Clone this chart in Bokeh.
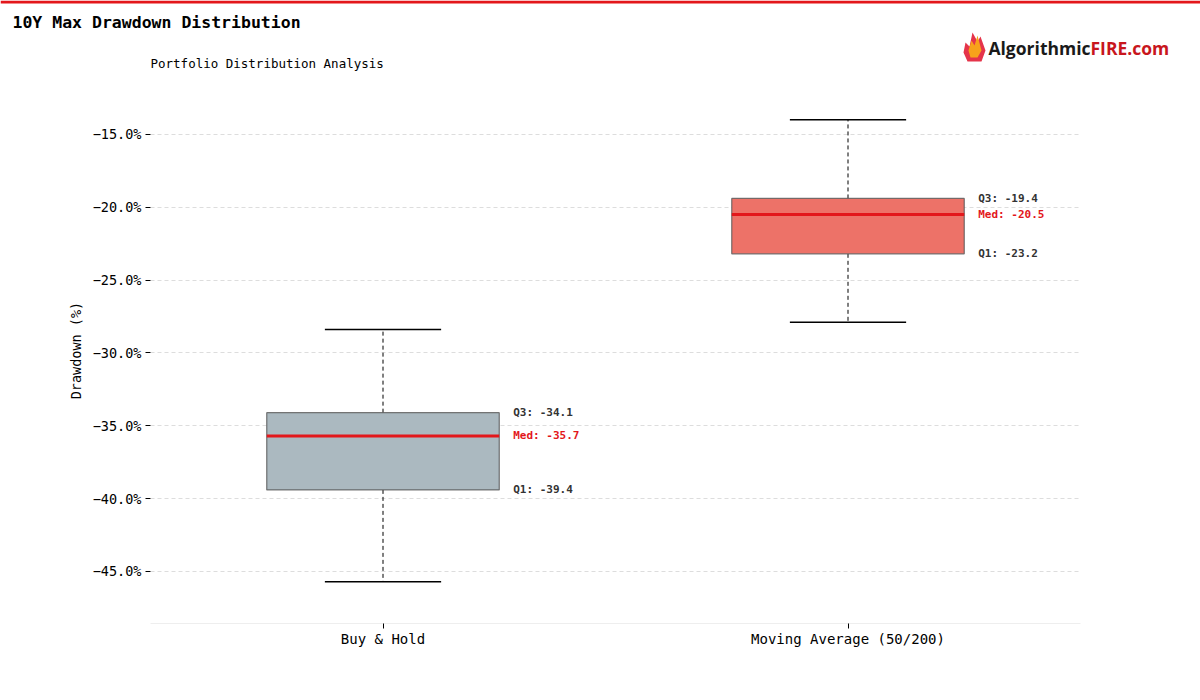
from bokeh.plotting import figure
from bokeh.layouts import column
from bokeh.models import (Range1d, FactorRange, FixedTicker, Label, BoxAnnotation,
                          ColumnDataSource)
from bokeh.transform import dodge
from bokeh.core.properties import value
from bokeh.embed import file_html
from bokeh.resources import INLINE

# ---- data ----
categories = ["Buy & Hold", "Moving Average (50/200)"]
whisker_low = [-45.7, -27.9]
q1 = [-39.4, -23.2]
median = [-35.7, -20.5]
q3 = [-34.1, -19.4]
whisker_high = [-28.4, -14.0]
box_colors = ["#abb9c0", "#ed7268"]
y_ticks = [-45, -40, -35, -30, -25, -20, -15]

FONT = "DejaVu Sans Mono"
RED = "#e3171b"
W = 1200
HEAD_H = 77

# ---------------- header (title, subtitle, logo) ----------------
header = figure(width=W, height=HEAD_H, x_range=Range1d(0, W), y_range=Range1d(HEAD_H, 0),
                toolbar_location=None, output_backend="svg", min_border=0,
                x_axis_location=None, y_axis_location=None)
header.title.visible = False
header.outline_line_color = None
header.xgrid.visible = False
header.ygrid.visible = False
header.background_fill_color = "white"
header.border_fill_color = "white"

header.add_layout(BoxAnnotation(left=0, right=W, top=0, bottom=3,
                                fill_color=RED, fill_alpha=1, line_color=None))
header.add_layout(Label(x=12, y=22, text="10Y Max Drawdown Distribution", text_font=FONT,
                        text_font_size="16.5px", text_font_style="bold", text_color="black",
                        text_baseline="middle"))
header.add_layout(Label(x=150, y=62.5, text="Portfolio Distribution Analysis", text_font=FONT,
                        text_font_size="12.5px", text_color="black",
                        text_baseline="middle"))
header.add_layout(Label(x=1090, y=47, text="Algorithmic", text_font="Open Sans",
                        text_font_size="17.5px", text_font_style="bold", text_color="#1a1a1a",
                        text_align="right", text_baseline="middle"))
header.add_layout(Label(x=1090, y=47, text="FIRE.com", text_font="Open Sans",
                        text_font_size="17.5px", text_font_style="bold", text_color="#c8161d",
                        text_align="left", text_baseline="middle"))
outer_x = [963, 965, 969, 972, 977, 980, 985, 981, 967]
outer_y = [52, 42, 46, 32, 41, 36, 50, 61, 61]
inner_x = [968, 971, 974, 977, 981, 977, 970]
inner_y = [50, 40, 45, 35, 50, 57, 57]
header.patch(outer_x, outer_y, fill_color="#e5344a", line_color=None)
header.patch(inner_x, inner_y, fill_color="#f7a21b", line_color=None)

# ---------------- main chart ----------------
src = ColumnDataSource(dict(
    cat=categories, low=whisker_low, q1=q1, med=median, q3=q3, high=whisker_high,
    color=box_colors,
    q1_txt=[f"Q1: {v:.1f}" for v in q1],
    q3_txt=[f"Q3: {v:.1f}" for v in q3],
    med_txt=[f"Med: {v:.1f}" for v in median],
))

p = figure(width=W, height=700 - HEAD_H,
           x_range=FactorRange(factors=categories),
           y_range=Range1d(-48.57, -11.1),
           output_backend="svg", toolbar_location=None,
           min_border_left=150, min_border_right=120,
           min_border_top=0, min_border_bottom=77)
p.title.visible = False
p.outline_line_color = None
p.background_fill_color = "white"
p.border_fill_color = "white"

# whiskers
p.segment(x0="cat", y0="q3", x1="cat", y1="high", source=src,
          line_color="black", line_dash="4 3", line_width=1)
p.segment(x0="cat", y0="q1", x1="cat", y1="low", source=src,
          line_color="black", line_dash="4 3", line_width=1)
# boxes
p.vbar(x="cat", width=0.5, bottom="q1", top="q3", source=src,
       fill_color="color", line_color="#555555", line_alpha=0.8, line_width=1.2)
# median
p.segment(x0=dodge("cat", -0.25, range=p.x_range), y0="med",
          x1=dodge("cat", 0.25, range=p.x_range), y1="med", source=src,
          line_color=RED, line_width=3)
# caps
for col in ("high", "low"):
    p.segment(x0=dodge("cat", -0.125, range=p.x_range), y0=col,
              x1=dodge("cat", 0.125, range=p.x_range), y1=col, source=src,
              line_color="black", line_width=1.5)

# annotations
for col, txt, colr in (("q3", "q3_txt", "#333333"), ("med", "med_txt", RED), ("q1", "q1_txt", "#333333")):
    p.text(x=dodge("cat", 0.28, range=p.x_range), y=col, text=txt, source=src,
           text_font=value(FONT), text_font_size="11px", text_font_style="bold",
           text_color=colr, text_baseline="middle", text_align="left")

# axes
p.xaxis.axis_line_color = "#eeeeee"
p.xaxis.major_tick_line_color = "black"
p.xaxis.major_tick_out = 5
p.xaxis.major_tick_in = 0
p.xaxis.major_label_text_font = FONT
p.xaxis.major_label_text_font_size = "14px"
p.xaxis.major_label_text_color = "black"
p.xaxis.major_label_standoff = 2

p.yaxis.ticker = FixedTicker(ticks=y_ticks)
p.yaxis.major_label_overrides = {t: f"\u2212{abs(t):.1f}%" for t in y_ticks}
p.yaxis.axis_line_color = None
p.yaxis.major_tick_line_color = "black"
p.yaxis.major_tick_out = 5
p.yaxis.major_tick_in = 0
p.yaxis.minor_tick_line_color = None
p.yaxis.major_label_text_font = FONT
p.yaxis.major_label_text_font_size = "13.5px"
p.yaxis.major_label_text_color = "black"
p.yaxis.major_label_standoff = 4
p.yaxis.axis_label = "Drawdown (%)"
p.yaxis.axis_label_text_font = FONT
p.yaxis.axis_label_text_font_size = "13.5px"
p.yaxis.axis_label_text_font_style = "normal"
p.yaxis.axis_label_text_color = "black"
p.yaxis.axis_label_standoff = 6

p.xgrid.grid_line_color = None
p.ygrid.ticker = FixedTicker(ticks=y_ticks)
p.ygrid.grid_line_color = "#dddddd"
p.ygrid.grid_line_dash = "4 3"
p.ygrid.grid_line_width = 1

# keep the header frame independent of the chart frame alignment
for fig in (header, p):
    try:
        fig.frame_align = False
    except Exception:
        pass

layout = column(header, p, spacing=0)
open("out.html", "w").write(file_html(layout, INLINE))
